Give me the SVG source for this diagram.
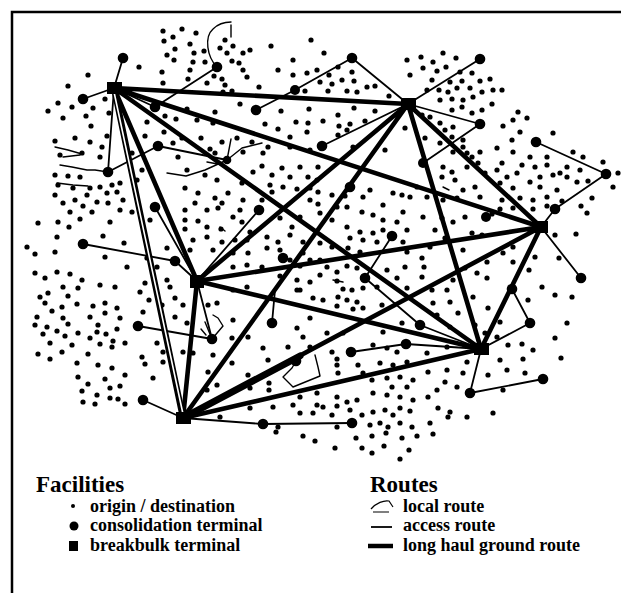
<svg xmlns="http://www.w3.org/2000/svg" width="621" height="593" viewBox="0 0 621 593">
<style>
.frame{fill:none;stroke:#000;stroke-width:2.5}
.lh{fill:none;stroke:#000;stroke-width:4.6;stroke-linecap:round}
.ac{fill:none;stroke:#000;stroke-width:1.8;stroke-linecap:round;stroke-linejoin:round}
.lr{fill:none;stroke:#000;stroke-width:1.4;stroke-linecap:round;stroke-linejoin:round}
.od circle{fill:#000;r:2.6px}
.ct circle{fill:#000}
.bb rect{fill:#000}
text{font-family:"Liberation Serif","Times New Roman",serif;font-weight:bold;fill:#000}
.h{font-size:23px}
.t{font-size:18px}
</style>
<rect width="621" height="593" fill="#fff"/>
<path class="frame" d="M12,593 V12 H621"/>

<g id="origins" class="od">
<circle cx="163" cy="31"/><circle cx="182" cy="29"/><circle cx="196" cy="33"/><circle cx="173" cy="37"/><circle cx="164" cy="41"/><circle cx="190" cy="44"/><circle cx="175" cy="49"/><circle cx="194" cy="53"/><circle cx="167" cy="55"/><circle cx="174" cy="60"/><circle cx="204" cy="51"/><circle cx="205" cy="62"/><circle cx="193" cy="62"/><circle cx="190" cy="70"/><circle cx="139" cy="67"/><circle cx="162" cy="72"/><circle cx="88" cy="75"/><circle cx="68" cy="86"/><circle cx="163" cy="83"/><circle cx="188" cy="79"/><circle cx="207" cy="83"/><circle cx="214" cy="76"/><circle cx="58" cy="103"/><circle cx="48" cy="111"/><circle cx="72" cy="107"/><circle cx="63" cy="118"/><circle cx="93" cy="108"/><circle cx="86" cy="116"/><circle cx="105" cy="99"/><circle cx="109" cy="113"/><circle cx="91" cy="126"/><circle cx="107" cy="136"/><circle cx="75" cy="138"/><circle cx="90" cy="142"/><circle cx="55" cy="141"/><circle cx="102" cy="147"/><circle cx="147" cy="122"/><circle cx="165" cy="116"/><circle cx="176" cy="119"/><circle cx="187" cy="109"/><circle cx="145" cy="136"/><circle cx="164" cy="132"/><circle cx="173" cy="143"/><circle cx="182" cy="138"/><circle cx="197" cy="120"/><circle cx="201" cy="138"/><circle cx="213" cy="123"/><circle cx="210" cy="149"/>
<circle cx="225" cy="40"/><circle cx="233" cy="46"/><circle cx="220" cy="48"/><circle cx="227" cy="53"/><circle cx="243" cy="53"/><circle cx="250" cy="50"/><circle cx="232" cy="61"/><circle cx="239" cy="63"/><circle cx="243" cy="70"/><circle cx="271" cy="46"/><circle cx="311" cy="40"/><circle cx="324" cy="53"/><circle cx="293" cy="60"/><circle cx="278" cy="70"/><circle cx="293" cy="75"/><circle cx="307" cy="73"/><circle cx="317" cy="70"/><circle cx="329" cy="75"/><circle cx="338" cy="67"/><circle cx="247" cy="77"/><circle cx="222" cy="79"/><circle cx="225" cy="85"/><circle cx="223" cy="92"/><circle cx="232" cy="91"/><circle cx="259" cy="87"/><circle cx="305" cy="91"/><circle cx="320" cy="82"/><circle cx="328" cy="91"/><circle cx="332" cy="84"/><circle cx="342" cy="80"/><circle cx="347" cy="91"/><circle cx="354" cy="81"/><circle cx="357" cy="92"/><circle cx="367" cy="87"/><circle cx="375" cy="86"/><circle cx="389" cy="96"/><circle cx="215" cy="112"/><circle cx="240" cy="104"/><circle cx="281" cy="111"/><circle cx="309" cy="109"/><circle cx="338" cy="115"/><circle cx="354" cy="108"/><circle cx="375" cy="111"/><circle cx="265" cy="124"/><circle cx="278" cy="129"/><circle cx="296" cy="122"/><circle cx="308" cy="123"/><circle cx="323" cy="121"/><circle cx="339" cy="126"/><circle cx="350" cy="124"/><circle cx="365" cy="121"/><circle cx="307" cy="132"/><circle cx="290" cy="137"/><circle cx="338" cy="135"/><circle cx="347" cy="130"/><circle cx="222" cy="142"/><circle cx="237" cy="138"/><circle cx="252" cy="142"/><circle cx="268" cy="147"/><circle cx="290" cy="147"/><circle cx="407" cy="60"/><circle cx="410" cy="75"/><circle cx="405" cy="128"/><circle cx="353" cy="147"/><circle cx="310" cy="150"/><circle cx="385" cy="150"/><circle cx="352" cy="72"/>
<circle cx="421" cy="57"/><circle cx="433" cy="62"/><circle cx="443" cy="53"/><circle cx="456" cy="58"/><circle cx="423" cy="68"/><circle cx="437" cy="71"/><circle cx="446" cy="67"/><circle cx="460" cy="72"/><circle cx="472" cy="73"/><circle cx="432" cy="80"/><circle cx="450" cy="82"/><circle cx="462" cy="81"/><circle cx="480" cy="81"/><circle cx="490" cy="79"/><circle cx="502" cy="90"/><circle cx="493" cy="90"/><circle cx="482" cy="92"/><circle cx="470" cy="88"/><circle cx="457" cy="88"/><circle cx="448" cy="92"/><circle cx="439" cy="90"/><circle cx="427" cy="90"/><circle cx="440" cy="100"/><circle cx="452" cy="99"/><circle cx="463" cy="100"/><circle cx="473" cy="97"/><circle cx="492" cy="104"/><circle cx="462" cy="107"/><circle cx="482" cy="110"/><circle cx="472" cy="113"/><circle cx="452" cy="110"/><circle cx="422" cy="115"/><circle cx="430" cy="117"/><circle cx="440" cy="123"/><circle cx="453" cy="127"/><circle cx="445" cy="130"/><circle cx="518" cy="112"/><circle cx="527" cy="118"/><circle cx="513" cy="120"/><circle cx="503" cy="126"/><circle cx="520" cy="132"/><circle cx="553" cy="133"/><circle cx="512" cy="140"/><circle cx="497" cy="148"/><circle cx="513" cy="152"/><circle cx="530" cy="157"/><circle cx="547" cy="157"/><circle cx="573" cy="152"/><circle cx="583" cy="157"/><circle cx="603" cy="162"/><circle cx="618" cy="173"/><circle cx="613" cy="187"/><circle cx="567" cy="167"/><circle cx="580" cy="170"/><circle cx="560" cy="173"/><circle cx="547" cy="165"/><circle cx="535" cy="167"/><circle cx="522" cy="165"/><circle cx="502" cy="163"/><circle cx="507" cy="177"/><circle cx="517" cy="173"/><circle cx="540" cy="177"/><circle cx="553" cy="175"/><circle cx="567" cy="177"/><circle cx="577" cy="182"/><circle cx="588" cy="181"/><circle cx="557" cy="190"/><circle cx="540" cy="187"/><circle cx="530" cy="182"/><circle cx="513" cy="188"/><circle cx="500" cy="183"/><circle cx="497" cy="170"/><circle cx="485" cy="173"/><circle cx="478" cy="163"/><circle cx="472" cy="157"/><circle cx="463" cy="147"/><circle cx="453" cy="152"/><circle cx="467" cy="167"/><circle cx="480" cy="152"/><circle cx="425" cy="138"/><circle cx="440" cy="143"/><circle cx="452" cy="137"/><circle cx="463" cy="140"/><circle cx="467" cy="153"/><circle cx="443" cy="167"/><circle cx="442" cy="177"/><circle cx="455" cy="180"/><circle cx="452" cy="172"/><circle cx="475" cy="187"/><circle cx="463" cy="190"/><circle cx="480" cy="197"/><circle cx="417" cy="187"/><circle cx="427" cy="197"/><circle cx="443" cy="200"/><circle cx="457" cy="198"/><circle cx="592" cy="198"/><circle cx="581" cy="206"/>
<circle cx="502" cy="200"/><circle cx="520" cy="198"/><circle cx="533" cy="200"/><circle cx="547" cy="197"/><circle cx="562" cy="201"/><circle cx="587" cy="213"/><circle cx="547" cy="206"/><circle cx="533" cy="209"/><circle cx="513" cy="208"/><circle cx="500" cy="209"/><circle cx="492" cy="214"/>
<circle cx="60" cy="155"/><circle cx="82" cy="153"/><circle cx="100" cy="157"/><circle cx="55" cy="175"/><circle cx="68" cy="176"/><circle cx="80" cy="177"/><circle cx="58" cy="185"/><circle cx="73" cy="188"/><circle cx="90" cy="188"/><circle cx="100" cy="187"/><circle cx="112" cy="185"/><circle cx="120" cy="183"/><circle cx="55" cy="195"/><circle cx="87" cy="195"/><circle cx="107" cy="193"/><circle cx="117" cy="192"/><circle cx="63" cy="203"/><circle cx="75" cy="200"/><circle cx="83" cy="206"/><circle cx="97" cy="202"/><circle cx="108" cy="203"/><circle cx="123" cy="200"/><circle cx="70" cy="212"/><circle cx="92" cy="212"/><circle cx="120" cy="210"/><circle cx="132" cy="212"/><circle cx="80" cy="219"/><circle cx="110" cy="222"/><circle cx="38" cy="223"/><circle cx="58" cy="222"/><circle cx="69" cy="227"/><circle cx="57" cy="237"/><circle cx="103" cy="236"/><circle cx="124" cy="243"/><circle cx="27" cy="247"/><circle cx="35" cy="254"/><circle cx="55" cy="252"/><circle cx="105" cy="257"/><circle cx="127" cy="267"/><circle cx="35" cy="273"/><circle cx="45" cy="278"/><circle cx="57" cy="272"/><circle cx="70" cy="274"/><circle cx="82" cy="280"/><circle cx="100" cy="285"/><circle cx="115" cy="287"/><circle cx="63" cy="287"/><circle cx="78" cy="288"/><circle cx="132" cy="153"/><circle cx="142" cy="170"/><circle cx="137" cy="180"/><circle cx="150" cy="220"/><circle cx="167" cy="248"/><circle cx="147" cy="258"/><circle cx="157" cy="267"/><circle cx="167" cy="280"/><circle cx="145" cy="283"/><circle cx="140" cy="292"/><circle cx="170" cy="287"/><circle cx="185" cy="188"/><circle cx="198" cy="193"/><circle cx="185" cy="210"/><circle cx="195" cy="203"/><circle cx="185" cy="220"/><circle cx="198" cy="221"/><circle cx="185" cy="229"/><circle cx="193" cy="240"/><circle cx="190" cy="250"/><circle cx="178" cy="157"/><circle cx="187" cy="170"/>
<circle cx="215" cy="153"/><circle cx="243" cy="152"/><circle cx="263" cy="153"/><circle cx="205" cy="175"/><circle cx="217" cy="180"/><circle cx="253" cy="172"/><circle cx="262" cy="166"/><circle cx="272" cy="175"/><circle cx="270" cy="185"/><circle cx="282" cy="168"/><circle cx="290" cy="177"/><circle cx="300" cy="167"/><circle cx="308" cy="177"/><circle cx="318" cy="167"/><circle cx="317" cy="180"/><circle cx="310" cy="188"/><circle cx="297" cy="189"/><circle cx="283" cy="187"/><circle cx="272" cy="192"/><circle cx="242" cy="183"/><circle cx="228" cy="193"/><circle cx="215" cy="198"/><circle cx="207" cy="210"/><circle cx="222" cy="203"/><circle cx="240" cy="210"/><circle cx="243" cy="200"/><circle cx="233" cy="217"/><circle cx="218" cy="208"/><circle cx="207" cy="227"/><circle cx="221" cy="229"/><circle cx="242" cy="222"/><circle cx="250" cy="232"/><circle cx="262" cy="200"/><circle cx="280" cy="218"/><circle cx="292" cy="227"/><circle cx="300" cy="217"/><circle cx="310" cy="200"/><circle cx="318" cy="192"/><circle cx="318" cy="204"/><circle cx="320" cy="213"/><circle cx="332" cy="195"/><circle cx="337" cy="207"/><circle cx="332" cy="220"/><circle cx="345" cy="196"/><circle cx="347" cy="207"/><circle cx="362" cy="212"/><circle cx="363" cy="197"/><circle cx="370" cy="190"/><circle cx="383" cy="205"/><circle cx="393" cy="193"/><circle cx="402" cy="195"/><circle cx="410" cy="197"/><circle cx="403" cy="212"/><circle cx="373" cy="215"/><circle cx="383" cy="220"/><circle cx="397" cy="222"/><circle cx="407" cy="230"/><circle cx="347" cy="227"/><circle cx="360" cy="232"/><circle cx="373" cy="233"/><circle cx="383" cy="230"/><circle cx="350" cy="238"/><circle cx="363" cy="240"/><circle cx="348" cy="248"/><circle cx="360" cy="252"/><circle cx="377" cy="242"/><circle cx="403" cy="242"/><circle cx="407" cy="252"/><circle cx="207" cy="237"/><circle cx="213" cy="250"/><circle cx="222" cy="242"/><circle cx="235" cy="240"/><circle cx="247" cy="240"/><circle cx="267" cy="237"/><circle cx="278" cy="242"/><circle cx="290" cy="235"/><circle cx="267" cy="248"/><circle cx="280" cy="250"/><circle cx="248" cy="253"/><circle cx="233" cy="253"/><circle cx="303" cy="242"/><circle cx="303" cy="253"/><circle cx="320" cy="243"/><circle cx="332" cy="247"/><circle cx="290" cy="260"/><circle cx="300" cy="266"/><circle cx="310" cy="260"/><circle cx="320" cy="260"/><circle cx="327" cy="267"/><circle cx="337" cy="272"/><circle cx="347" cy="266"/><circle cx="357" cy="268"/><circle cx="233" cy="267"/><circle cx="247" cy="265"/><circle cx="262" cy="267"/><circle cx="280" cy="276"/><circle cx="247" cy="287"/><circle cx="233" cy="290"/><circle cx="297" cy="280"/><circle cx="310" cy="282"/><circle cx="320" cy="275"/><circle cx="337" cy="281"/><circle cx="343" cy="289"/><circle cx="352" cy="290"/><circle cx="363" cy="288"/><circle cx="397" cy="278"/><circle cx="405" cy="267"/><circle cx="387" cy="270"/><circle cx="377" cy="287"/><circle cx="407" cy="288"/><circle cx="297" cy="290"/>
<circle cx="555" cy="235"/><circle cx="576" cy="234"/><circle cx="559" cy="258"/><circle cx="542" cy="287"/><circle cx="555" cy="295"/><circle cx="572" cy="297"/><circle cx="528" cy="300"/><circle cx="567" cy="323"/><circle cx="555" cy="338"/><circle cx="561" cy="358"/><circle cx="533" cy="350"/><circle cx="522" cy="344"/><circle cx="508" cy="345"/><circle cx="523" cy="359"/><circle cx="507" cy="370"/><circle cx="525" cy="373"/><circle cx="488" cy="375"/><circle cx="500" cy="360"/><circle cx="467" cy="362"/><circle cx="463" cy="373"/><circle cx="447" cy="370"/><circle cx="503" cy="390"/><circle cx="493" cy="413"/><circle cx="467" cy="417"/><circle cx="448" cy="417"/><circle cx="487" cy="278"/><circle cx="473" cy="297"/><circle cx="488" cy="308"/><circle cx="500" cy="322"/><circle cx="485" cy="333"/><circle cx="497" cy="337"/><circle cx="475" cy="325"/><circle cx="535" cy="257"/><circle cx="529" cy="270"/><circle cx="513" cy="262"/><circle cx="513" cy="247"/><circle cx="503" cy="253"/><circle cx="487" cy="262"/><circle cx="477" cy="273"/><circle cx="465" cy="268"/><circle cx="453" cy="280"/><circle cx="447" cy="290"/><circle cx="458" cy="313"/><circle cx="450" cy="302"/><circle cx="433" cy="303"/><circle cx="432" cy="290"/><circle cx="422" cy="277"/><circle cx="424" cy="267"/><circle cx="422" cy="258"/><circle cx="437" cy="315"/><circle cx="450" cy="327"/><circle cx="427" cy="353"/><circle cx="447" cy="347"/><circle cx="428" cy="372"/><circle cx="445" cy="382"/><circle cx="437" cy="390"/><circle cx="428" cy="397"/><circle cx="457" cy="387"/><circle cx="438" cy="408"/><circle cx="450" cy="412"/><circle cx="430" cy="423"/><circle cx="423" cy="217"/><circle cx="442" cy="218"/><circle cx="453" cy="222"/><circle cx="465" cy="217"/><circle cx="435" cy="230"/><circle cx="445" cy="238"/><circle cx="472" cy="233"/><circle cx="430" cy="247"/><circle cx="463" cy="250"/><circle cx="482" cy="235"/>
<circle cx="40" cy="297"/><circle cx="48" cy="293"/><circle cx="68" cy="296"/><circle cx="45" cy="303"/><circle cx="62" cy="307"/><circle cx="77" cy="304"/><circle cx="93" cy="306"/><circle cx="105" cy="303"/><circle cx="117" cy="308"/><circle cx="37" cy="317"/><circle cx="52" cy="311"/><circle cx="63" cy="318"/><circle cx="90" cy="317"/><circle cx="105" cy="313"/><circle cx="120" cy="318"/><circle cx="35" cy="325"/><circle cx="47" cy="327"/><circle cx="68" cy="324"/><circle cx="98" cy="325"/><circle cx="117" cy="329"/><circle cx="43" cy="334"/><circle cx="57" cy="331"/><circle cx="65" cy="336"/><circle cx="78" cy="333"/><circle cx="90" cy="338"/><circle cx="97" cy="332"/><circle cx="106" cy="334"/><circle cx="113" cy="341"/><circle cx="50" cy="343"/><circle cx="72" cy="345"/><circle cx="100" cy="344"/><circle cx="112" cy="347"/><circle cx="125" cy="343"/><circle cx="62" cy="352"/><circle cx="38" cy="354"/><circle cx="50" cy="359"/><circle cx="88" cy="354"/><circle cx="77" cy="363"/><circle cx="98" cy="365"/><circle cx="112" cy="368"/><circle cx="125" cy="375"/><circle cx="78" cy="377"/><circle cx="105" cy="379"/><circle cx="88" cy="384"/><circle cx="110" cy="388"/><circle cx="120" cy="386"/><circle cx="82" cy="391"/><circle cx="97" cy="395"/><circle cx="110" cy="398"/><circle cx="118" cy="399"/><circle cx="83" cy="402"/><circle cx="95" cy="404"/><circle cx="125" cy="404"/><circle cx="142" cy="357"/><circle cx="145" cy="364"/><circle cx="153" cy="378"/><circle cx="157" cy="343"/><circle cx="143" cy="312"/><circle cx="149" cy="300"/><circle cx="162" cy="305"/><circle cx="175" cy="298"/><circle cx="183" cy="305"/><circle cx="175" cy="317"/><circle cx="187" cy="323"/><circle cx="163" cy="352"/><circle cx="163" cy="362"/><circle cx="183" cy="352"/><circle cx="193" cy="353"/><circle cx="207" cy="390"/>
<circle cx="208" cy="305"/><circle cx="217" cy="303"/><circle cx="233" cy="320"/><circle cx="248" cy="337"/><circle cx="232" cy="338"/><circle cx="213" cy="355"/><circle cx="208" cy="372"/><circle cx="232" cy="363"/><circle cx="248" cy="375"/><circle cx="217" cy="385"/><circle cx="250" cy="388"/><circle cx="220" cy="417"/><circle cx="250" cy="408"/><circle cx="263" cy="348"/><circle cx="268" cy="360"/><circle cx="288" cy="347"/><circle cx="297" cy="328"/><circle cx="303" cy="337"/><circle cx="310" cy="318"/><circle cx="300" cy="290"/><circle cx="313" cy="298"/><circle cx="323" cy="300"/><circle cx="338" cy="297"/><circle cx="337" cy="306"/><circle cx="347" cy="300"/><circle cx="357" cy="302"/><circle cx="353" cy="309"/><circle cx="363" cy="308"/><circle cx="382" cy="305"/><circle cx="327" cy="333"/><circle cx="343" cy="333"/><circle cx="310" cy="347"/><circle cx="332" cy="352"/><circle cx="337" cy="359"/><circle cx="402" cy="323"/><circle cx="383" cy="332"/><circle cx="373" cy="345"/><circle cx="387" cy="348"/><circle cx="397" cy="352"/><circle cx="358" cy="365"/><circle cx="338" cy="373"/><circle cx="337" cy="365"/><circle cx="363" cy="373"/><circle cx="380" cy="363"/><circle cx="393" cy="365"/><circle cx="407" cy="362"/><circle cx="372" cy="380"/><circle cx="387" cy="378"/><circle cx="400" cy="377"/><circle cx="413" cy="380"/><circle cx="392" cy="387"/><circle cx="407" cy="387"/><circle cx="373" cy="393"/><circle cx="387" cy="395"/><circle cx="400" cy="397"/><circle cx="413" cy="400"/><circle cx="337" cy="397"/><circle cx="347" cy="402"/><circle cx="357" cy="400"/><circle cx="337" cy="406"/><circle cx="317" cy="393"/><circle cx="300" cy="397"/><circle cx="293" cy="405"/><circle cx="317" cy="405"/><circle cx="273" cy="407"/><circle cx="300" cy="413"/><circle cx="313" cy="413"/><circle cx="323" cy="407"/><circle cx="332" cy="415"/><circle cx="350" cy="410"/><circle cx="362" cy="415"/><circle cx="373" cy="412"/><circle cx="385" cy="410"/><circle cx="393" cy="415"/><circle cx="400" cy="408"/><circle cx="410" cy="411"/><circle cx="370" cy="425"/><circle cx="380" cy="423"/><circle cx="388" cy="427"/><circle cx="400" cy="423"/><circle cx="412" cy="427"/><circle cx="278" cy="427"/><circle cx="337" cy="427"/><circle cx="269" cy="383"/><circle cx="269" cy="390"/>
<circle cx="276" cy="432"/><circle cx="303" cy="436"/><circle cx="315" cy="441"/><circle cx="335" cy="448"/><circle cx="356" cy="438"/><circle cx="362" cy="448"/><circle cx="372" cy="436"/><circle cx="372" cy="453"/><circle cx="384" cy="446"/><circle cx="386" cy="433"/><circle cx="402" cy="438"/><circle cx="409" cy="450"/><circle cx="400" cy="459"/><circle cx="417" cy="436"/><circle cx="433" cy="434"/>
</g>

<g id="connectors">
<g id="local-routes" class="lr">
<path d="M217,67 C207,57 204,37 213,29 C218,24 225,22 231,22 M231,25 L231,37"/>
<path d="M227,160 L231,139 M227,160 L242,148 L262,143 M227,160 L205,170 L186,176 L167,173 M207,162 L223,165"/>
<path d="M55,147 L68,150 L82,154 M60,165 L72,167 L87,170 L95,170 L108,172 M57,183 L73,185 L88,186 M63,157 L80,155"/>
<path d="M213,315 L218,318 L223,326 L212,339 M205,322 L212,339 M201,329 L206,335"/>
<path d="M315,355 L318,367 L320,376 L293,387 L283,377 L292,368 L296,361"/>
<path d="M443,187 L449,190 M333,280 L343,282 M220,227 L225,231"/>
</g>
<g id="access-routes" class="ac">
<path d="M123,58 L114,88 M83,99 L114,88 M114,88 L108,172 M114,88 L155,107 L217,67"/>
<path d="M108,172 L158,146 L227,160"/>
<path d="M408,104 L352,58 L295,90 L256,110 M408,104 L480,59 M408,104 L480,124 L423,163 M408,104 L322,146"/>
<path d="M536,142 L606,174 L555,209 L541,227 M541,227 L581,278"/>
<path d="M481,349 L530,323 L512,289 M481,349 L420,325 L365,278 L392,236 M481,349 L406,344 L351,352 M481,349 L470,393 L543,379"/>
<path d="M183,418 L263,424 L352,423 M183,418 L143,400"/>
<path d="M197,281 L212,339 L138,326 M197,281 L175,261 L83,244 M197,281 L155,207 M197,281 L259,210 M272,323 L275,290"/>
</g>
<g id="long-haul-routes" class="lh">
<path d="M114,88 L408,104 M114,88 L541,227 M114,88 L481,349 M114,88 L197,281"/>
<path d="M408,104 L541,227 M408,104 L197,281 M408,104 L481,349 M408,104 L183,418"/>
<path d="M541,227 L197,281 M541,227 L481,349 M541,227 L183,418"/>
<path d="M197,281 L481,349 M197,281 L183,418 M481,349 L183,418"/>
<path d="M183,418 L300,356" style="stroke-width:7"/>
<path d="M114,88 L183,418" style="stroke-width:6.2"/>
<path d="M114,92 L183,414" style="stroke:#fff;stroke-width:1.6"/>
</g>
</g>

<g id="consolidation-terminals" class="ct">
<g id="c1"><circle cx="123" cy="58" r="5.3"/></g>
<g id="c2"><circle cx="83" cy="99" r="5.3"/></g>
<g id="c3"><circle cx="155" cy="107" r="5.3"/></g>
<g id="c4"><circle cx="217" cy="67" r="5.3"/></g>
<g id="c5"><circle cx="256" cy="110" r="5.3"/></g>
<g id="c6"><circle cx="295" cy="90" r="5"/></g>
<g id="c7"><circle cx="352" cy="58" r="5.3"/></g>
<g id="c8"><circle cx="480" cy="59" r="5.3"/></g>
<g id="c9"><circle cx="480" cy="124" r="5.3"/></g>
<g id="c10"><circle cx="322" cy="146" r="5.3"/></g>
<g id="c11"><circle cx="158" cy="146" r="5.3"/></g>
<g id="c12"><circle cx="108" cy="172" r="5.3"/></g>
<g id="c13"><circle cx="227" cy="160" r="4.3"/></g>
<g id="c14"><circle cx="350" cy="187" r="5.3"/></g>
<g id="c15"><circle cx="155" cy="207" r="5.3"/></g>
<g id="c16"><circle cx="259" cy="210" r="5.3"/></g>
<g id="c17"><circle cx="536" cy="142" r="5.3"/></g>
<g id="c18"><circle cx="606" cy="174" r="5.3"/></g>
<g id="c19"><circle cx="555" cy="209" r="5.3"/></g>
<g id="c20"><circle cx="423" cy="163" r="5"/></g>
<g id="c21"><circle cx="486" cy="217" r="5"/></g>
<g id="c22"><circle cx="392" cy="236" r="5.3"/></g>
<g id="c23"><circle cx="283" cy="258" r="5.3"/></g>
<g id="c24"><circle cx="83" cy="244" r="5.3"/></g>
<g id="c25"><circle cx="175" cy="261" r="5.3"/></g>
<g id="c26"><circle cx="365" cy="278" r="5.3"/></g>
<g id="c27"><circle cx="581" cy="278" r="5.3"/></g>
<g id="c28"><circle cx="512" cy="289" r="5.3"/></g>
<g id="c29"><circle cx="530" cy="323" r="5.3"/></g>
<g id="c30"><circle cx="420" cy="325" r="5.3"/></g>
<g id="c31"><circle cx="272" cy="323" r="5.3"/></g>
<g id="c32"><circle cx="138" cy="326" r="5.3"/></g>
<g id="c33"><circle cx="212" cy="339" r="5.3"/></g>
<g id="c34"><circle cx="351" cy="352" r="5.3"/></g>
<g id="c35"><circle cx="406" cy="344" r="5.3"/></g>
<g id="c36"><circle cx="296" cy="361" r="5.3"/></g>
<g id="c37"><circle cx="470" cy="393" r="5.3"/></g>
<g id="c38"><circle cx="543" cy="379" r="5.3"/></g>
<g id="c39"><circle cx="143" cy="400" r="5.3"/></g>
<g id="c40"><circle cx="263" cy="424" r="5.3"/></g>
<g id="c41"><circle cx="352" cy="423" r="5.3"/></g>
</g>

<g id="breakbulk-terminals" class="bb">
<g id="b1"><rect x="107" y="82" width="15" height="12"/></g>
<g id="b2"><rect x="401" y="98" width="15" height="12"/></g>
<g id="b3"><rect x="534" y="221" width="14" height="12"/></g>
<g id="b4"><rect x="190" y="275" width="14" height="13"/></g>
<g id="b5"><rect x="474" y="343" width="15" height="12"/></g>
<g id="b6"><rect x="176" y="412" width="15" height="12"/></g>
</g>

<g id="legend">
<text class="h" x="36" y="492">Facilities</text>
<circle cx="73" cy="506" r="2"/>
<text class="t" x="90" y="512">origin / destination</text>
<circle cx="74" cy="526" r="4.5"/>
<text class="t" x="90" y="531">consolidation terminal</text>
<rect x="69" y="541" width="9" height="10"/>
<text class="t" x="90" y="551">breakbulk terminal</text>
<text class="h" x="370" y="492">Routes</text>
<path d="M371,509 C376,503 384,500 389,501 L393,507 M373,512 L389,512" fill="none" stroke="#000" stroke-width="1.2"/>
<text class="t" x="403" y="512">local route</text>
<path d="M371,527 H392" stroke="#000" stroke-width="1.8"/>
<text class="t" x="403" y="531">access route</text>
<path d="M368,546 H393" stroke="#000" stroke-width="4.5"/>
<text class="t" x="403" y="551">long haul ground route</text>
</g>
</svg>
